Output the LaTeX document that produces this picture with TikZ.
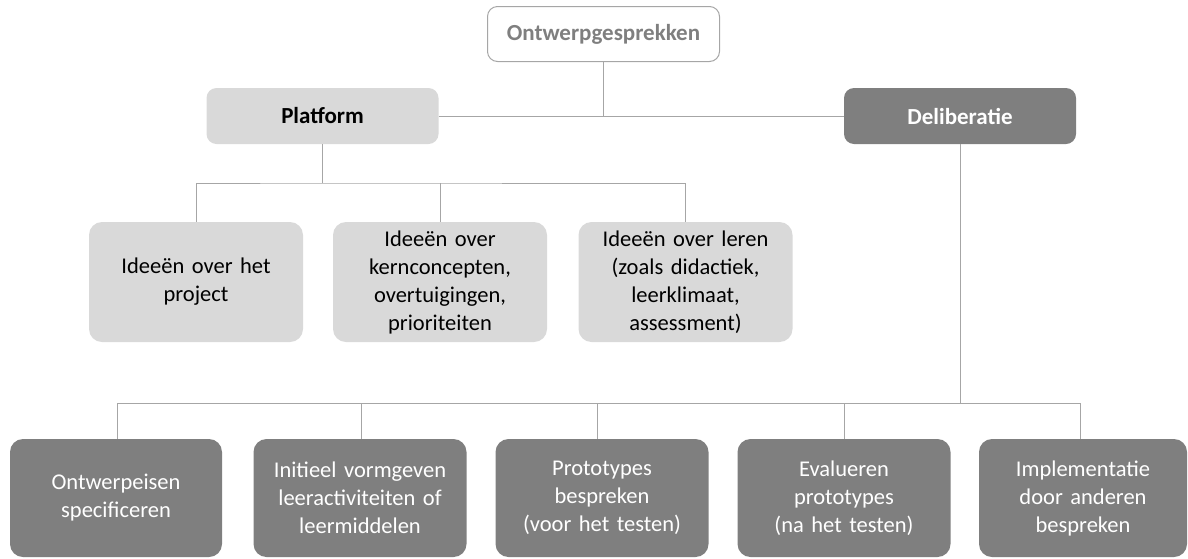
\documentclass[tikz,border=0pt]{standalone}
\usepackage{fontspec}
\setmainfont{Carlito}
\definecolor{lightbox}{HTML}{D9D9D9}
\definecolor{darkbox}{HTML}{7F7F7F}
\definecolor{linegray}{HTML}{A6A6A6}
\definecolor{topborder}{HTML}{A6A6A6}
\definecolor{toptext}{HTML}{7F7F7F}
\tikzset{
  base/.style={rounded corners=13pt, align=center, inner sep=2pt, font=\fontsize{22.5}{28}\selectfont},
  topbox/.style={base, rounded corners=10pt, draw=topborder, line width=1pt, fill=white, text=toptext, font=\fontsize{23}{28}\selectfont\bfseries, minimum width=232pt, minimum height=55pt},
  lvlone/.style={base, rounded corners=10pt, minimum width=232pt, minimum height=56pt, font=\fontsize{23}{28}\selectfont\bfseries},
  lightnode/.style={base, fill=lightbox, text=black, minimum width=214pt, minimum height=120pt, text width=208pt},
  darknode/.style={base, fill=darkbox, text=white, minimum height=118pt, text width=208pt},
  conn/.style={draw=linegray, line width=1pt}
}
\begin{document}
\begin{tikzpicture}[x=1pt,y=-1pt]
\useasboundingbox (0,0) rectangle (1188,558);
\node[topbox] (top) at (603.5,34) {Ontwerpgesprekken};
\node[lvlone, fill=lightbox, text=black] (plat) at (322.5,116) {Platform};
\node[lvlone, fill=darkbox, text=white] (delib) at (960,116) {Deliberatie};

\node[lightnode] (i1) at (196,282) {Ideeën over het\\project};
\node[lightnode] (i2) at (440,282) {Ideeën over\\kernconcepten,\\overtuigingen,\\prioriteiten};
\node[lightnode] (i3) at (685.5,282) {Ideeën over leren\\(zoals didactiek,\\leerklimaat,\\assessment)};

\node[darknode, minimum width=212pt] (b1) at (116,498) {Ontwerpeisen\\specificeren};
\node[darknode, minimum width=213pt] (b2) at (360,498) {Initieel vormgeven\\leeractiviteiten of\\leermiddelen};
\node[darknode, minimum width=213pt] (b3) at (602,498) {Prototypes\\bespreken\\(voor het testen)};
\node[darknode, minimum width=213pt] (b4) at (844,498) {Evalueren\\prototypes\\(na het testen)};
\node[darknode, minimum width=208pt, text width=200pt] (b5) at (1083,498) {Implementatie\\door anderen\\bespreken};

\coordinate (j0) at (603.5,116);
\coordinate (j1) at (322.5,183);
\coordinate (j2) at (960,403);

% top level
\draw[conn] (plat.east) -- (delib.west);
\draw[conn] (top.south) -- (j0);
% platform branch
\draw[conn] (plat.south) -- (j1);
\draw[conn] (i1.north) |- (j1) -| (i3.north);
\draw[conn] (i2.north) -- (i2.north |- j1);
% deliberatie branch
\draw[conn] (delib.south) -- (j2);
\draw[conn] ([xshift=1pt]b1.north) |- (j2) -| ([xshift=-3pt]b5.north);
\draw[conn] ([xshift=1pt]b2.north) -- ([xshift=1pt]b2.north |- j2);
\draw[conn] ([xshift=-5pt]b3.north) -- ([xshift=-5pt]b3.north |- j2);
\draw[conn] (b4.north) -- (b4.north |- j2);
\end{tikzpicture}
\end{document}
